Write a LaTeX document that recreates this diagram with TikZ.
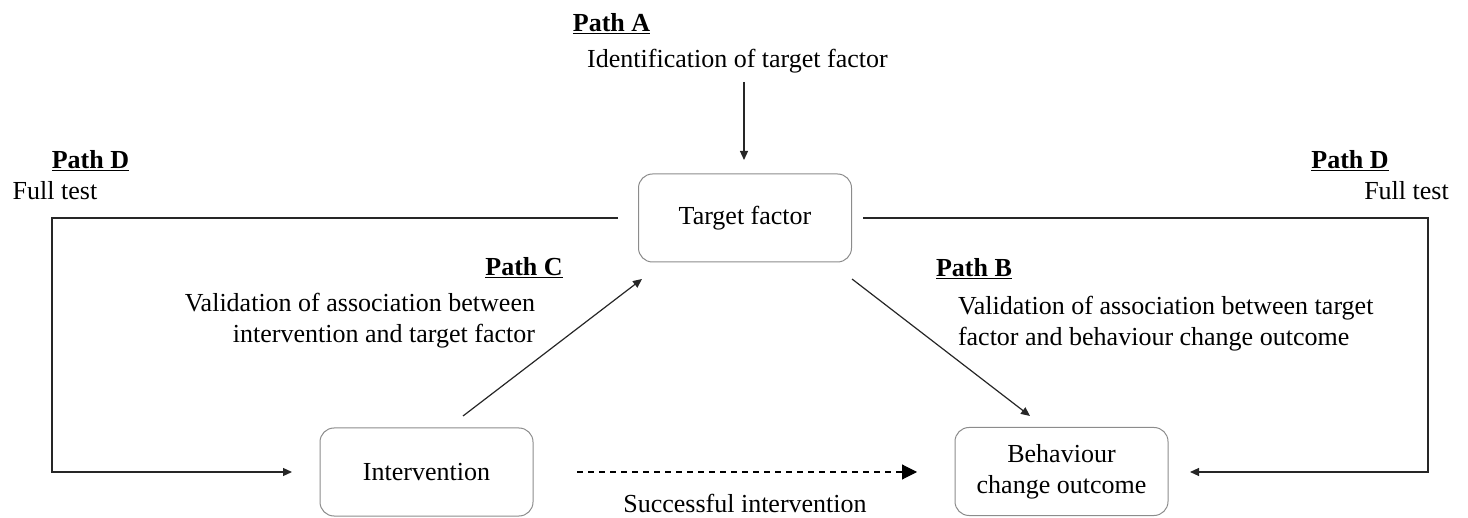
\documentclass[tikz,border=0pt]{standalone}
\usepackage{fontspec}
\setmainfont{Liberation Serif}
\usetikzlibrary{arrows.meta}
\begin{document}
\begin{tikzpicture}[x=1pt,y=-1pt,
  every node/.style={font=\fontsize{26}{31}\selectfont, inner sep=0pt, outer sep=0pt},
  box/.style={draw=black!45, line width=1pt, rounded corners=14pt, minimum width=213pt, minimum height=88pt, align=center},
  conn/.style={line width=1.2pt, draw=black!85, -{Triangle[length=9pt,width=8pt]}},
  dconn/.style={line width=1.1pt, draw=black, dash pattern=on 6pt off 5pt, -{Triangle[length=15pt,width=15pt]}},
  lbl/.style={anchor=base},
  pathlbl/.style={anchor=base, font=\fontsize{26}{31}\selectfont\bfseries}
]
\useasboundingbox (0,0) rectangle (1468,518);

% boxes
\node[box] (tf) at (745,218) {Target factor};
\node[box] (iv) at (426.5,472) {Intervention};
\node[box] (bc) at (1061.5,471.5) {Behaviour\\change outcome};

% labels
\node[pathlbl] (pa) at (611.5,32) {\underline{Path A}};
\node[lbl] (pat) at (737.5,68) {Identification of target factor};
\node[pathlbl] (pdl) at (90.5,169) {\underline{Path D}};
\node[lbl] (pdlt) at (55,200) {Full test};
\node[pathlbl] (pdr) at (1350,169) {\underline{Path D}};
\node[lbl] (pdrt) at (1406.5,200) {Full test};
\node[pathlbl] (pc) at (524,276) {\underline{Path C}};
\node[anchor=base east, align=right] (pct) at (535,343) {Validation of association between\\intervention and target factor};
\node[pathlbl] (pb) at (974,277) {\underline{Path B}};
\node[anchor=base west, align=left] (pbt) at (958,346) {Validation of association between target\\factor and behaviour change outcome};
\node[lbl] (si) at (745,512) {Successful intervention};

% coordinates for free ends
\coordinate (a0) at (744,82);
\coordinate (a1) at (744,160);
\coordinate (c0) at (463,416);
\coordinate (c1) at (642,279);
\coordinate (b0) at (852,279);
\coordinate (b1) at (1030,416);
\coordinate (d0) at (577,472);
\coordinate (d1) at (917,472);
\coordinate (l0) at (618,218);
\coordinate (l1) at (52,218);
\coordinate (l2) at (52,472);
\coordinate (l3) at (292,472);
\coordinate (r0) at (863,218);
\coordinate (r1) at (1428,218);
\coordinate (r2) at (1428,472);
\coordinate (r3) at (1190,472);

% connectors
\draw[conn] (a0) -- (a1);
\draw[conn] (c0) -- (c1);
\draw[conn] (b0) -- (b1);
\draw[dconn] (d0) -- (d1);
\draw[conn] (l0) -- (l1) -- (l2) -- (l3);
\draw[conn] (r0) -- (r1) -- (r2) -- (r3);
\end{tikzpicture}
\end{document}
